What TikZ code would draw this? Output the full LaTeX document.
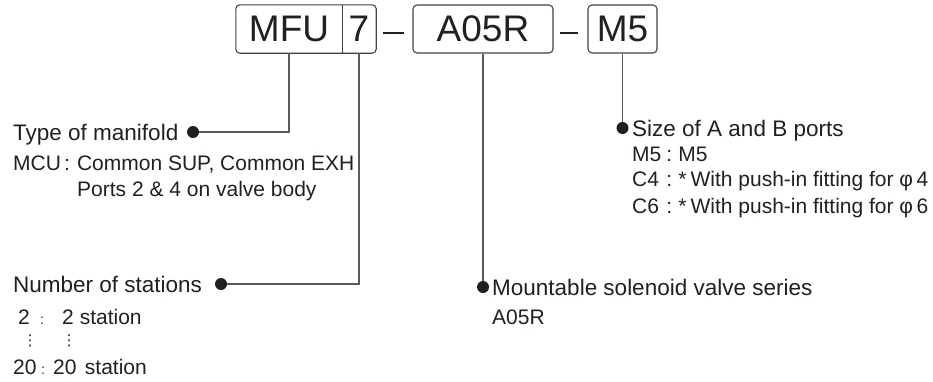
\documentclass[tikz,border=0pt]{standalone}
\usepackage{fontspec}
\setmainfont{Liberation Sans}
\newfontfamily\dejavu{DejaVu Sans}
\usepackage{tikz}
\usetikzlibrary{positioning}

\definecolor{ink}{HTML}{231F20}
\definecolor{leadgray}{HTML}{5A5A5A}

\begin{document}
\begin{tikzpicture}[x=1pt, y=-1pt,
    codetext/.style={inner sep=0pt, minimum height=48pt, text=ink, font=\fontsize{37}{40}\selectfont},
    codebox/.style={codetext, draw=ink!85, line width=1.1pt, rounded corners=4pt},
    lead/.style={draw=leadgray, line width=1.1pt},
    bullet/.style={circle, fill=ink, inner sep=0pt, minimum size=12pt},
    head/.style={anchor=base west, inner sep=0pt, text=ink, font=\fontsize{22.5}{26}\selectfont},
    item/.style={anchor=base west, inner sep=0pt, text=ink, font=\fontsize{21}{25}\selectfont}]

    \useasboundingbox (0,0) rectangle (933,381);

    % --- model code boxes
    \node[codetext, minimum width=106pt] (mfu) at (289,29) {MFU};
    \node[codetext, minimum width=34pt] (seven) at (359,29) {7};
    \draw[draw=ink!85, line width=1.1pt, rounded corners=4pt] (mfu.north west) rectangle (seven.south east);
    \draw[draw=ink!85, line width=1.1pt] (mfu.north east) -- (mfu.south east);
    \node[codebox, minimum width=140pt] (a05r) at (483,29) {A05R};
    \node[codebox, minimum width=69pt] (m5) at (622.5,29) {M5};

    % dashes between the boxes
    \draw[ink, line width=1.3pt] ([xshift=7pt, yshift=-4pt]seven.east) -- ([xshift=-8pt, yshift=-4pt]a05r.west);
    \draw[ink, line width=1.3pt] ([xshift=6pt, yshift=-4pt]a05r.east) -- ([xshift=-9pt, yshift=-4pt]m5.west);

    % --- bullets
    \node[bullet] (dotType) at (193,132) {};
    \node[bullet] (dotNum) at (221,284) {};
    \node[bullet] (dotSol) at (483,287) {};
    \node[bullet] (dotPort) at (622.5,128) {};

    % --- leader lines
    \draw[lead] (mfu.south) |- (dotType);
    \draw[lead] (seven.south) |- (dotNum);
    \draw[lead] (a05r.south) -- (dotSol);
    \draw[lead] (m5.south) -- (dotPort);

    % --- type of manifold
    \node[head] (typeHead) at (13,140) {Type of manifold};
    \node[item] (typeMcu) at (13,170.5) {\makebox[51pt][l]{MCU}:\hspace{7pt}Common SUP, Common EXH};
    \node[item] (typePorts) at (77,196.5) {Ports 2 \& 4 on valve body};

    % --- number of stations
    \node[head] (numHead) at (13,292) {Number of stations};
    \node[item] (numMin) at (18,324.5) {\makebox[22pt][l]{2}{\fontsize{14}{14}\selectfont:}\hspace{18pt}2\hspace{6pt}station};
    \node[inner sep=0pt, text=ink, font=\dejavu\fontsize{15}{15}\selectfont] (numDotsA) at (30,341) {⋮};
    \node[inner sep=0pt, text=ink, font=\dejavu\fontsize{15}{15}\selectfont] (numDotsB) at (69,341) {⋮};
    \node[item] (numMax) at (13,374.5) {\makebox[28pt][l]{20}{\fontsize{14}{14}\selectfont:}\hspace{8pt}20\hspace{8.5pt}station};

    % --- solenoid valve series
    \node[head] (solHead) at (492,295) {Mountable solenoid valve series};
    \node[item] (solA05r) at (492,324.5) {A05R};

    % --- port size
    \node[head] (portHead) at (632,136) {Size of A and B ports};
    \node[item] (portM5) at (632,161) {\makebox[34.2pt][l]{M5}:\hspace{6.2pt}M5};
    \node[item] (portC4) at (632,186) {\makebox[34.2pt][l]{C4}:\hspace{6.2pt}*\hspace{4pt}With push-in fitting for φ\,4};
    \node[item] (portC6) at (632,213.5) {\makebox[34.2pt][l]{C6}:\hspace{6.2pt}*\hspace{4pt}With push-in fitting for φ\,6};

\end{tikzpicture}
\end{document}
